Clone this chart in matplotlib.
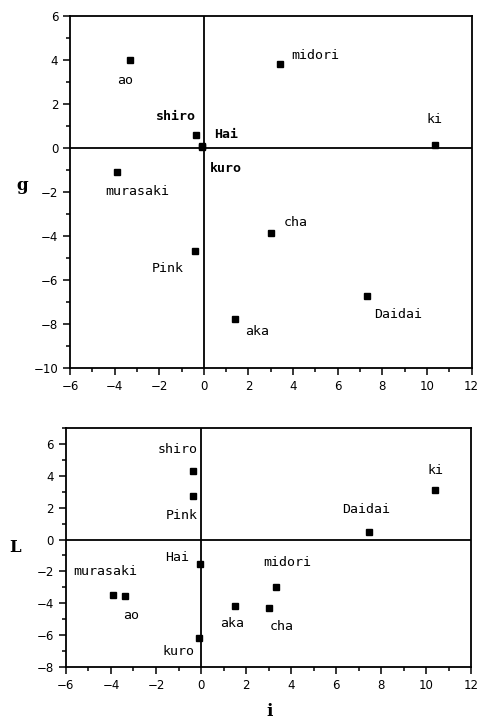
import matplotlib

matplotlib.use("Agg")

import matplotlib.pyplot as plt  # noqa: E402
from matplotlib.ticker import MultipleLocator  # noqa: E402

# colour names and their coordinates
names = ["ao", "midori", "shiro", "Hai", "kuro", "ki", "murasaki",
         "cha", "Pink", "aka", "Daidai"]
i_top = [-3.3, 3.4, -0.37, -0.08, -0.08, 10.37, -3.88, 3.0, -0.4, 1.41, 7.33]
g_top = [4.0, 3.82, 0.57, 0.08, 0.05, 0.15, -1.08, -3.88, -4.66, -7.76, -6.74]

i_bot = [-3.38, 3.32, -0.34, -0.06, -0.07, 10.4, -3.91, 3.0, -0.34, 1.49, 7.45]
L_bot = [-3.54, -3.0, 4.33, -1.56, -6.2, 3.08, -3.46, -4.29, 2.75, -4.17, 0.45]

# label offsets in pixels (dx, dy, ha) per panel
top_offsets = {
    "ao": (-5, -21, "center"), "midori": (12, 8, "left"),
    "shiro": (0, 19, "right"), "Hai": (12, 12, "left"),
    "kuro": (8, -22, "left"), "ki": (-1, 25, "center"),
    "murasaki": (20, -20, "center"), "cha": (13, 11, "left"),
    "Pink": (-11, -18, "right"), "aka": (10, -13, "left"),
    "Daidai": (7, -18, "left"),
}
bot_offsets = {
    "ao": (6, -20, "center"), "midori": (11, 25, "center"),
    "shiro": (4, 21, "right"), "Hai": (-11, 7, "right"),
    "kuro": (-5, -13, "right"), "ki": (0, 20, "center"),
    "murasaki": (-8, 23, "center"), "cha": (13, -19, "center"),
    "Pink": (4, -20, "right"), "aka": (-2, -18, "center"),
    "Daidai": (-3, 23, "center"),
}
bold_top = {"shiro", "Hai", "kuro"}


def style_axes(ax, ylim):
    ax.set_xlim(-6, 12)
    ax.set_ylim(*ylim)
    ax.xaxis.set_major_locator(MultipleLocator(2))
    ax.xaxis.set_minor_locator(MultipleLocator(1))
    ax.yaxis.set_major_locator(MultipleLocator(2))
    ax.yaxis.set_minor_locator(MultipleLocator(1))
    ax.tick_params(which="both", direction="out", top=False, right=False,
                   labelsize=8.5, width=1.1, color="black")
    ax.tick_params(which="major", length=5)
    ax.tick_params(which="minor", length=3)
    for s in ax.spines.values():
        s.set_linewidth(1.3)
    ax.axhline(0, color="black", lw=1.3)
    ax.axvline(0, color="black", lw=1.3)


def draw_panel(ax, xs, ys, offsets, bold=()):
    ax.plot(xs, ys, "s", color="black", markersize=5, zorder=3)
    for name, x, y in zip(names, xs, ys):
        dx, dy, ha = offsets[name]
        ax.annotate(name, (x, y), xytext=(dx, dy), textcoords="offset pixels",
                    ha=ha, va="center", fontsize=9.5, family="DejaVu Sans Mono",
                    fontweight="bold" if name in bold else "normal")


fig = plt.figure(figsize=(4.81, 7.25), dpi=100)
ax1 = fig.add_axes([0.1455, 0.4924, 0.835, 0.4856])
ax2 = fig.add_axes([0.137, 0.08, 0.843, 0.3297])

style_axes(ax1, (-10, 6))
draw_panel(ax1, i_top, g_top, top_offsets, bold_top)
style_axes(ax2, (-8, 7))
draw_panel(ax2, i_bot, L_bot, bot_offsets)

fig.text(22 / 481, 1 - 185 / 725, "g", family="DejaVu Serif", fontweight="bold",
         fontsize=12, ha="center", va="center")
fig.text(15 / 481, 1 - 548 / 725, "L", family="DejaVu Serif", fontweight="bold",
         fontsize=12, ha="center", va="center")
fig.text(270 / 481, 1 - 712 / 725, "i", family="DejaVu Serif", fontweight="bold",
         fontsize=12, ha="center", va="center")

fig.savefig("out.png", dpi=100)
